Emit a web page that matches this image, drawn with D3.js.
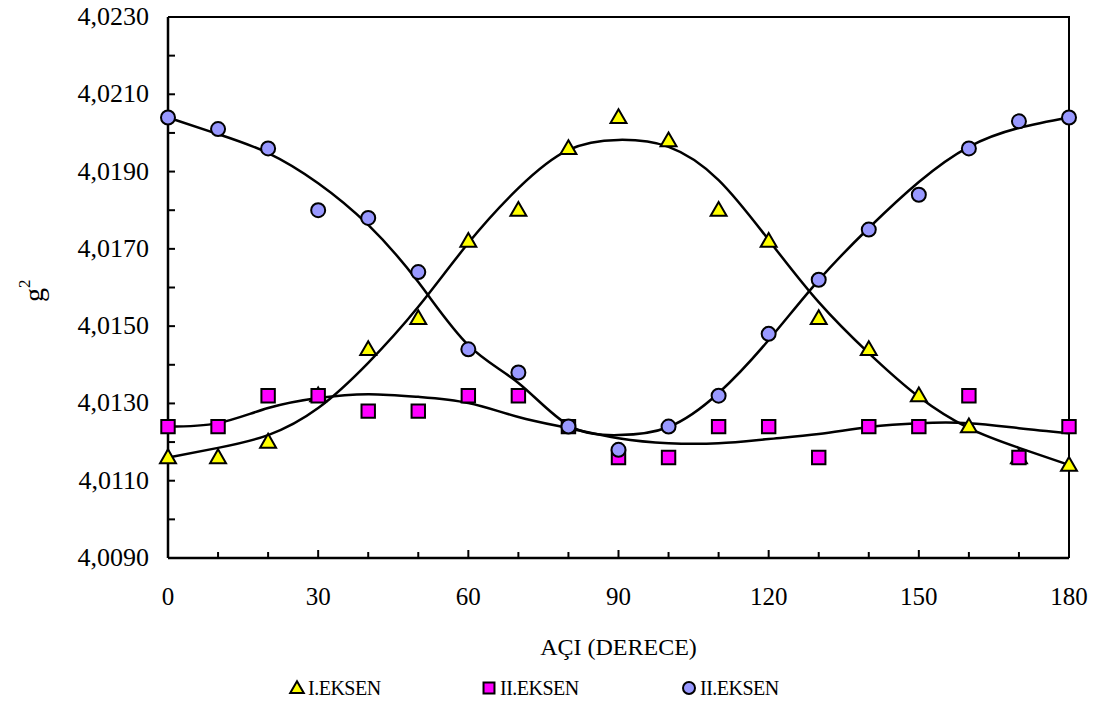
<!DOCTYPE html>
<html lang="tr">
<head>
    <meta charset="UTF-8">
    <title>g2 - Açı</title>
    <script src="https://d3js.org/d3.v7.min.js"></script>
    <style>
        body { margin: 0; background: #fff; }
        svg { display: block; font-family: "Liberation Serif", "Times New Roman", serif; }
    </style>
</head>
<body>
    <script>
    // angles (degrees)
    const angles = [0, 10, 20, 30, 40, 50, 60, 70, 80, 90, 100, 110, 120, 130, 140, 150, 160, 170, 180];

    // measured points
    const eksen1 = [4.0116, 4.0116, 4.0120, 4.0132, 4.0144, 4.0152, 4.0172, 4.0180, 4.0196, 4.0204,
                    4.0198, 4.0180, 4.0172, 4.0152, 4.0144, 4.0132, 4.0124, 4.0116, 4.0114];
    const eksen2 = [4.0124, 4.0124, 4.0132, 4.0132, 4.0128, 4.0128, 4.0132, 4.0132, 4.0124, 4.0116,
                    4.0116, 4.0124, 4.0124, 4.0116, 4.0124, 4.0124, 4.0132, 4.0116, 4.0124];
    const eksen3 = [4.0204, 4.0201, 4.0196, 4.0180, 4.0178, 4.0164, 4.0144, 4.0138, 4.0124, 4.0118,
                    4.0124, 4.0132, 4.0148, 4.0162, 4.0175, 4.0184, 4.0196, 4.0203, 4.0204];

    // trend curves
    const trend1 = [4.01160, 4.01185, 4.01218, 4.01288, 4.01405, 4.01550, 4.01715, 4.01857, 4.01956, 4.01982,
                    4.01964, 4.01878, 4.01723, 4.01562, 4.01430, 4.01317, 4.01236, 4.01185, 4.01141];
    const trend2 = [4.01240, 4.01249, 4.01288, 4.01314, 4.01324, 4.01317, 4.01301, 4.01265, 4.01236, 4.01210,
                    4.01197, 4.01197, 4.01208, 4.01221, 4.01239, 4.01249, 4.01249, 4.01236, 4.01223];
    const trend3 = [4.02040, 4.01997, 4.01948, 4.01870, 4.01762, 4.01614, 4.01451, 4.01353, 4.01244, 4.01218,
                    4.01239, 4.01327, 4.01464, 4.01619, 4.01754, 4.01873, 4.01964, 4.02013, 4.02040];

    const yTicks = [4.009, 4.011, 4.013, 4.015, 4.017, 4.019, 4.021, 4.023];
    const xTicks = [0, 30, 60, 90, 120, 150, 180];
    const legendNames = ["I.EKSEN", "II.EKSEN", "II.EKSEN"];

    const W = 1101, H = 706;
    const pL = 168, pR = 1069, pT = 17, pB = 558;

    const svg = d3.select("body").append("svg")
        .attr("width", W)
        .attr("height", H);

    const x = d3.scaleLinear().domain([0, 180]).range([pL, pR]);
    const y = d3.scaleLinear().domain([4.009, 4.023]).range([pB, pT]);

    const fmt = v => d3.format(".4f")(v).replace(".", ",");

    // frame
    svg.append("path")
        .attr("d", `M${pL},${pT}H${pR}V${pB}`)
        .attr("fill", "none").attr("stroke", "#000").attr("stroke-width", 2);

    // ticks (inside)
    svg.append("g")
        .selectAll("line")
        .data(d3.range(4.009, 4.0231, 0.001))
        .join("line")
        .attr("x1", pL).attr("x2", pL + 7)
        .attr("y1", d => y(d)).attr("y2", d => y(d))
        .attr("stroke", "#000").attr("stroke-width", 2);

    svg.append("g")
        .selectAll("line")
        .data(d3.range(10, 180, 10))
        .join("line")
        .attr("x1", d => x(d)).attr("x2", d => x(d))
        .attr("y1", pB).attr("y2", d => pB - (d % 30 === 0 ? 8 : 6))
        .attr("stroke", "#000").attr("stroke-width", 2);

    svg.append("line")
        .attr("x1", pL).attr("x2", pL).attr("y1", pT).attr("y2", pB)
        .attr("stroke", "#000").attr("stroke-width", 2.5);
    svg.append("line")
        .attr("x1", pL).attr("x2", pR).attr("y1", pB).attr("y2", pB)
        .attr("stroke", "#000").attr("stroke-width", 2.5);

    // tick labels
    svg.append("g")
        .selectAll("text")
        .data(yTicks)
        .join("text")
        .attr("x", pL - 19)
        .attr("y", d => y(d) + 8)
        .attr("text-anchor", "end")
        .attr("font-size", 26)
        .text(fmt);

    svg.append("g")
        .selectAll("text")
        .data(xTicks)
        .join("text")
        .attr("x", d => x(d))
        .attr("y", pB + 47)
        .attr("text-anchor", "middle")
        .attr("font-size", 25)
        .text(d => d);

    // axis titles
    svg.append("text")
        .attr("x", (pL + pR) / 2)
        .attr("y", 655)
        .attr("text-anchor", "middle")
        .attr("font-size", 24)
        .text("AÇI (DERECE)");

    const yt = svg.append("text")
        .attr("transform", "translate(43,302) rotate(-90)")
        .attr("font-size", 28);
    yt.append("tspan").text("g");
    yt.append("tspan").attr("font-size", 17).attr("dy", -13).text("2");

    // trend lines
    const line = d3.line()
        .x((d, i) => x(angles[i]))
        .y(d => y(d))
        .curve(d3.curveNatural);

    [trend1, trend2, trend3].forEach(t => {
        svg.append("path")
            .attr("d", line(t))
            .attr("fill", "none")
            .attr("stroke", "#000")
            .attr("stroke-width", 2.5);
    });

    // markers
    const tri = d3.symbol().type(d3.symbolTriangle).size(110);
    const sq = d3.symbol().type(d3.symbolSquare).size(180);

    svg.append("g")
        .selectAll("path")
        .data(eksen1)
        .join("path")
        .attr("d", tri)
        .attr("transform", (d, i) => `translate(${x(angles[i])},${y(d) + 1})`)
        .attr("fill", "#ffff00").attr("stroke", "#000").attr("stroke-width", 2);

    svg.append("g")
        .selectAll("path")
        .data(eksen2)
        .join("path")
        .attr("d", sq)
        .attr("transform", (d, i) => `translate(${x(angles[i])},${y(d)})`)
        .attr("fill", "#ff00ff").attr("stroke", "#000").attr("stroke-width", 2);

    svg.append("g")
        .selectAll("circle")
        .data(eksen3)
        .join("circle")
        .attr("cx", (d, i) => x(angles[i]))
        .attr("cy", d => y(d))
        .attr("r", 7)
        .attr("fill", "#9999ff").attr("stroke", "#000").attr("stroke-width", 2);

    // legend
    const legX = [297, 489, 689];
    const legY = 688;
    const leg = svg.append("g");
    leg.append("path")
        .attr("d", d3.symbol().type(d3.symbolTriangle).size(80))
        .attr("transform", `translate(${legX[0]},${legY + 1})`)
        .attr("fill", "#ffff00").attr("stroke", "#000").attr("stroke-width", 2);
    leg.append("path")
        .attr("d", d3.symbol().type(d3.symbolSquare).size(120))
        .attr("transform", `translate(${legX[1]},${legY})`)
        .attr("fill", "#ff00ff").attr("stroke", "#000").attr("stroke-width", 2);
    leg.append("circle")
        .attr("cx", legX[2]).attr("cy", legY).attr("r", 6)
        .attr("fill", "#9999ff").attr("stroke", "#000").attr("stroke-width", 2);

    leg.selectAll("text")
        .data(legendNames)
        .join("text")
        .attr("x", (d, i) => legX[i] + 11)
        .attr("y", legY + 7)
        .attr("font-size", 20)
        .attr("letter-spacing", -0.5)
        .text(d => d);
    </script>
</body>
</html>
